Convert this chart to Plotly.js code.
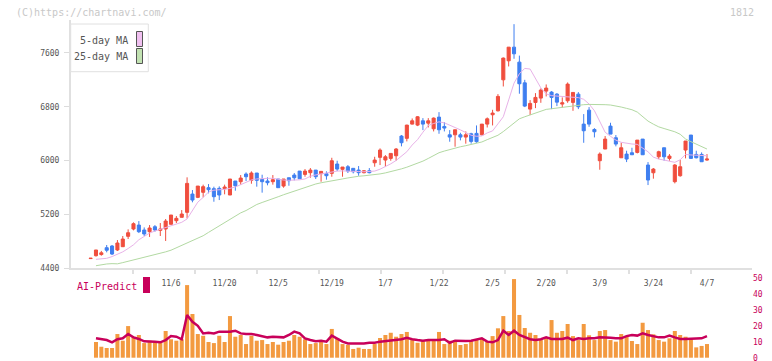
<!DOCTYPE html>
<html><head><meta charset="utf-8">
<script src="https://cdn.plot.ly/plotly-3.0.1.min.js"></script>
<style>html,body{margin:0;padding:0;background:#fff}#chart{width:772px;height:361px}</style>
</head><body><div id="chart"></div>
<script>
// ---- data ----
const tickLabels = ["11/6","11/20","12/5","12/19","1/7","1/22","2/5","2/20","3/9","3/24","4/7"];
const tickLabelIdx = [15,25,35,45,55,65,75,85,95,105,115];
const priceTicks = [4400,5200,6000,6800,7600];
const volTicks = [0,10,20,30,40,50];

const openP  = [4540,4583,4600,4702,4727,4668,4717,4871,4980,5039,4965,4940,5014,4960,4980,5050,5104,5154,5228,5500,
 5451,5526,5595,5580,5585,5580,5486,5694,5684,5798,5704,5813,5719,5694,5684,5724,5619,5743,5783,5842,
 5793,5818,5857,5803,5803,5808,5947,5868,5907,5883,5857,5818,5847,5966,6046,6006,6031,6070,6363,6329,
 6541,6526,6590,6555,6471,6645,6506,6382,6382,6382,6348,6397,6403,6382,6541,6680,6739,7200,7483,7686,
 7463,7155,6764,6863,6928,7032,7017,6987,6839,6888,6864,6987,6541,6749,6461,5996,6170,6511,6338,6040,
 6095,6115,6120,6318,5932,5817,6055,6189,6031,5684,5773,6155,6378,6090,6090,6006];
const highP  = [4548,4668,4654,4742,4742,4816,4876,4975,5079,5098,5004,5039,5039,5069,5129,5188,5173,5262,5749,5560,
 5619,5640,5649,5610,5615,5640,5724,5694,5783,5823,5838,5813,5788,5749,5783,5724,5724,5743,5813,5842,
 5872,5887,5857,5843,5838,6040,5996,5902,5932,5883,5917,5857,5887,6055,6180,6080,6105,6185,6378,6531,
 6625,6660,6630,6630,6640,6719,6571,6452,6457,6412,6432,6412,6521,6541,6640,6754,6987,7533,7686,8028,
 7560,7200,6898,7002,7072,7131,7032,7002,6938,7161,7012,7017,6690,6794,6481,6120,6363,6561,6378,6264,
 6145,6189,6303,6318,5976,5887,6145,6189,6095,5947,6006,6289,6378,6145,6120,6095];
const lowP   = [4538,4570,4583,4633,4593,4653,4712,4831,4960,4920,4876,4862,4940,4876,4802,5050,5069,5154,5139,5377,
 5440,5451,5511,5386,5411,5496,5486,5550,5640,5694,5654,5610,5521,5630,5640,5595,5595,5624,5704,5728,
 5758,5743,5724,5684,5714,5758,5842,5758,5813,5808,5773,5808,5808,5907,5932,5902,5996,5996,6210,6284,
 6536,6511,6452,6491,6432,6397,6432,6279,6205,6299,6250,6250,6264,6373,6491,6521,6729,7101,7399,7513,
 6993,6794,6675,6779,6858,6953,6764,6809,6789,6858,6739,6764,6263,6501,6343,5862,6170,6392,6210,6040,
 5976,6085,6105,6085,5634,5729,6021,5996,5996,5659,5758,6031,6031,6031,5981,5996];
const closeP = [4545,4668,4626,4664,4608,4772,4831,4925,5059,4940,4906,4995,4965,4980,5099,5188,5139,5203,5659,5411,
 5619,5610,5565,5461,5486,5605,5724,5624,5738,5758,5813,5704,5684,5669,5714,5595,5724,5699,5743,5728,
 5842,5857,5758,5838,5773,5996,5872,5902,5842,5833,5818,5847,5818,6006,6155,6055,6105,6170,6264,6526,
 6590,6650,6541,6590,6630,6457,6482,6348,6457,6348,6382,6284,6279,6541,6620,6705,6953,7523,7686,7587,
 7141,6809,6849,6938,7047,7077,6938,6868,6858,7136,7012,6799,6442,6541,6427,6095,6318,6392,6244,6189,
 6021,6085,6303,6085,5709,5872,6130,6055,6065,5932,5907,6289,6031,6040,5981,6021];

const ma5 = [null,4529,4535,4544,4570,4600,4640,4690,4745,4820,4870,4920,4950,4975,4995,5020,5050,5080,5130,5250,
 5380,5450,5530,5558,5560,5570,5585,5605,5640,5675,5710,5725,5734,5734,5734,5720,5709,5705,5704,5712,
 5725,5765,5785,5800,5815,5830,5842,5845,5845,5840,5835,5832,5838,5842,5870,5905,5950,6000,6060,6130,
 6230,6310,6420,6520,6550,6575,6560,6520,6490,6455,6415,6375,6360,6365,6410,6440,6545,6650,6900,7150,
 7290,7370,7360,7230,7080,6990,6965,6958,6952,6948,6944,6935,6910,6840,6740,6580,6420,6360,6303,6270,
 6254,6245,6240,6190,6129,6050,6020,6006,5985,5972,6010,6090,6082,6080,6075,6070];
const ma25 = [null,4434,4450,4460,4465,4462,4480,4500,4515,4530,4555,4580,4600,4620,4640,4665,4700,4735,4767,4800,
 4840,4880,4930,4980,5030,5080,5129,5175,5220,5255,5300,5345,5375,5400,5430,5460,5490,5518,5545,5575,
 5605,5632,5650,5668,5685,5694,5710,5725,5740,5755,5765,5772,5778,5783,5800,5815,5832,5855,5875,5900,
 5930,5957,5990,6030,6075,6115,6140,6165,6185,6204,6220,6235,6250,6275,6310,6345,6375,6430,6490,6550,
 6620,6650,6680,6710,6740,6760,6770,6780,6790,6805,6815,6822,6830,6834,6835,6832,6830,6825,6815,6795,
 6775,6755,6720,6650,6586,6540,6500,6475,6450,6427,6390,6320,6280,6240,6200,6170];

const volume = [null,9.9,6.9,6.1,6.1,14.9,10.7,19.9,13.2,14.3,9.2,10.7,9.7,9.7,16.8,11.6,10.7,11.6,45.7,27.5,
 14.9,13.8,9.9,9.2,13.8,9.9,26.2,13.2,14.3,8.6,13.8,10.7,11.1,8.6,9.9,8.2,9.9,10.7,14.3,13.2,
 11.6,8.6,9.2,10.7,8.6,18.1,12.2,8.6,8.0,5.5,6.3,5.5,5.5,8.6,12.4,14.3,15.7,13.2,14.9,16.2,
 11.1,9.4,10.7,10.7,10.7,16.2,8.6,10.7,10.1,8.0,8.6,10.7,11.6,11.8,10.4,13.6,18.5,26.2,16.8,49.5,
 26.9,18.7,15.7,14.3,11.1,12.8,23.7,15.7,16.8,21.2,13.6,11.1,21.2,14.1,11.1,16.8,17.4,11.1,10.1,14.9,
 13.2,10.5,8.6,22.0,17.4,14.7,11.1,10.1,12.2,16.8,14.3,13.2,11.8,6.5,7.4,8.6];
const aiPredict = [null,12.2,11.6,11.1,9.7,11.6,12.2,14.9,12.8,11.8,10.3,10.3,10.1,9.7,11.1,13.6,13.2,11.6,26.9,22.6,
 20.1,15.3,15.7,15.3,16.4,16.4,16.4,17.0,15.3,14.9,14.9,14.3,13.6,12.8,13.2,13.2,12.8,14.3,16.4,15.3,
 12.2,11.1,10.4,10.7,10.1,13.9,11.8,10.1,9.0,9.0,8.6,9.0,9.4,9.4,10.1,10.5,10.7,11.1,11.6,12.6,
 11.6,11.1,10.7,11.1,11.1,11.1,11.6,9.4,10.7,10.5,10.5,10.7,11.6,12.2,10.1,9.7,11.1,17.0,14.3,17.0,
 14.3,12.8,11.6,11.1,11.6,12.8,11.8,11.8,11.8,12.6,11.1,12.2,11.8,12.2,12.2,12.8,12.8,12.6,12.2,12.2,
 13.6,14.3,13.9,15.3,14.3,13.6,12.8,12.8,13.9,12.8,11.8,11.8,11.8,12.2,12.2,13.6];

// ---- layout helpers (pixel -> paper) ----
const W = 772, H = 361, ML = 71, MR = 20, MT = 20, MB = 3;
const PW = W - ML - MR, PH = H - MT - MB;
const px = x => (x - ML) / PW;
const py = y => (H - MB - y) / PH;

const idx = openP.map((_, i) => i);
const xRange = [-3.66, 123.4];
const gridTicks = [];
for (let k = 0; k <= 11; k++) gridTicks.push(-3.71 + 11.567 * k);

const mono = "DejaVu Sans Mono, monospace";
const red = "#f04e3e", blue = "#3f7ff0", magenta = "#c8005a";

const traces = [
  {type: "candlestick", x: idx, open: openP, high: highP, low: lowP, close: closeP,
   xaxis: "x", yaxis: "y", whiskerwidth: 0, hoverinfo: "skip", showlegend: false,
   increasing: {line: {color: red, width: 1}, fillcolor: red},
   decreasing: {line: {color: blue, width: 1}, fillcolor: blue}},
  {type: "scatter", mode: "lines", x: idx, y: ma5, xaxis: "x", yaxis: "y",
   line: {color: "#e8b2e8", width: 1}, showlegend: false, hoverinfo: "skip"},
  {type: "scatter", mode: "lines", x: idx, y: ma25, xaxis: "x", yaxis: "y",
   line: {color: "#b2d9a2", width: 1}, showlegend: false, hoverinfo: "skip"},
  {type: "bar", x: idx, y: volume, xaxis: "x2", yaxis: "y2",
   marker: {color: "#f39a40"}, showlegend: false, hoverinfo: "skip"},
  {type: "scatter", mode: "lines", x: idx, y: aiPredict, xaxis: "x2", yaxis: "y2",
   line: {color: magenta, width: 2.5}, showlegend: false, hoverinfo: "skip"}
];

const layout = {
  width: W, height: H, margin: {l: ML, r: MR, t: MT, b: MB},
  paper_bgcolor: "#fff", plot_bgcolor: "#fff",
  showlegend: false, boxgap: 0.18, bargap: 0.25,
  font: {family: mono, size: 8, color: "#555"},
  xaxis: {domain: [0, 1], anchor: "y", range: xRange, showgrid: false, zeroline: false,
    showline: true, linecolor: "#e0e0e0", linewidth: 2,
    tickmode: "array", tickvals: gridTicks, ticks: "outside", ticklen: 4, tickwidth: 2,
    tickcolor: "#e0e0e0", showticklabels: false, rangeslider: {visible: false}, fixedrange: true},
  yaxis: {domain: [py(268), 1], anchor: "x", range: [4400, 8090], showgrid: false, zeroline: false,
    showline: true, linecolor: "#e0e0e0", linewidth: 2,
    tickmode: "array", tickvals: priceTicks, ticks: "outside", ticklen: 5, tickwidth: 1,
    tickcolor: "#dcdcdc", tickfont: {family: mono, size: 8, color: "#555"}, ticklabelstandoff: 3},
  xaxis2: {domain: [0, 1], anchor: "free", position: py(276.5), range: xRange,
    showgrid: false, zeroline: false, showline: false, ticks: "",
    tickmode: "array", tickvals: tickLabelIdx, ticktext: tickLabels,
    tickfont: {family: mono, size: 8, color: "#555"}},
  yaxis2: {domain: [0, py(270)], anchor: "x2", side: "right", range: [-0.19, 55.2],
    showgrid: false, zeroline: false, showline: false, ticks: "",
    tickmode: "array", tickvals: volTicks, ticklabeloverflow: "allow",
    tickfont: {family: mono, size: 8, color: magenta}},
  shapes: [
    {type: "rect", xref: "paper", yref: "paper", x0: px(70.7), x1: px(148.3), y0: py(71.7), y1: py(24),
     line: {color: "#e0e0e0", width: 1}, fillcolor: "rgba(255,255,255,0.9)"},
    {type: "rect", xref: "paper", yref: "paper", x0: px(136.5), x1: px(142.5), y0: py(46.5), y1: py(31.5),
     line: {color: "#555", width: 1}, fillcolor: "#f0c0f0"},
    {type: "rect", xref: "paper", yref: "paper", x0: px(136.5), x1: px(142.5), y0: py(63.5), y1: py(48.5),
     line: {color: "#555", width: 1}, fillcolor: "#c2e2b2"},
    {type: "rect", xref: "paper", yref: "paper", x0: px(143), x1: px(150), y0: py(293), y1: py(277),
     line: {width: 0}, fillcolor: magenta}
  ],
  annotations: [
    {xref: "paper", yref: "paper", x: px(14), y: py(12), xanchor: "left", yanchor: "middle",
     text: "(C)https://chartnavi.com/", showarrow: false, font: {family: mono, size: 10, color: "#c8c8c8"}},
    {xref: "paper", yref: "paper", x: px(756), y: py(12), xanchor: "right", yanchor: "middle",
     text: "1812", showarrow: false, font: {family: mono, size: 10, color: "#c8c8c8"}},
    {xref: "paper", yref: "paper", x: px(130), y: py(40.7), xanchor: "right", yanchor: "middle",
     text: "5-day MA", showarrow: false, font: {family: mono, size: 10, color: "#555"}},
    {xref: "paper", yref: "paper", x: px(130), y: py(56.7), xanchor: "right", yanchor: "middle",
     text: "25-day MA", showarrow: false, font: {family: mono, size: 10, color: "#555"}},
    {xref: "paper", yref: "paper", x: px(75), y: py(286.5), xanchor: "left", yanchor: "middle",
     text: "AI-Predict", showarrow: false, font: {family: mono, size: 10, color: magenta}}
  ]
};

Plotly.newPlot("chart", traces, layout, {staticPlot: true, displayModeBar: false});
</script></body></html>
